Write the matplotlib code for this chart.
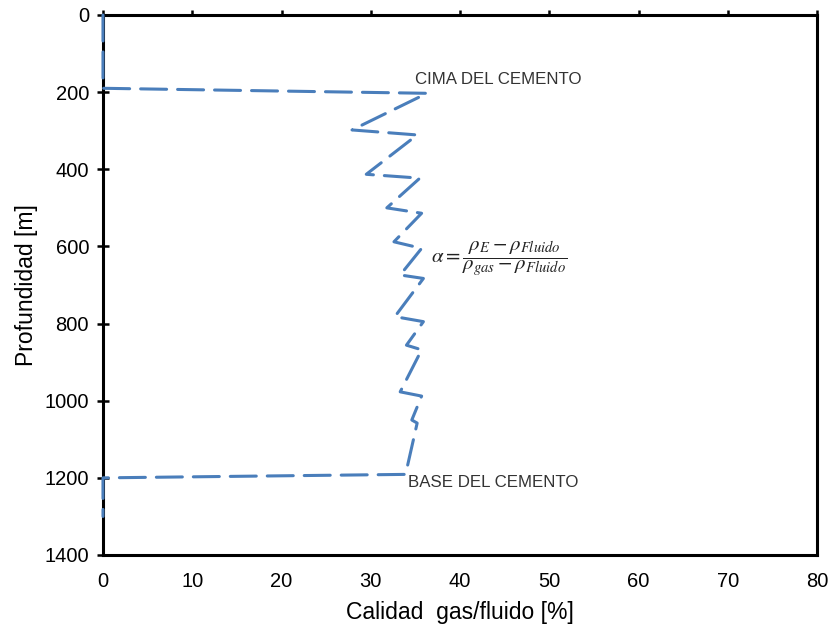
import matplotlib
matplotlib.use("Agg")
import matplotlib.pyplot as plt

plt.rcParams['font.family'] = ['Liberation Sans', 'DejaVu Sans']
plt.rcParams['mathtext.fontset'] = 'stix'

# Gas/fluid quality profile along the well (depth in m, quality in %)
depth_m = [0, 190, 203, 298, 311, 413, 423, 500, 514, 588, 605, 674, 683,
           782, 795, 856, 868, 977, 988, 1050, 1058, 1191, 1200, 1300]
quality_pct = [0, 0, 36.3, 27.9, 35.2, 29.5, 35.5, 31.8, 35.7, 32.6, 35.7,
               33.3, 35.9, 32.7, 35.9, 34.0, 35.7, 33.3, 35.7, 34.6, 35.2,
               33.9, 0, 0]

x_ticks = [0, 10, 20, 30, 40, 50, 60, 70, 80]
y_ticks = [0, 200, 400, 600, 800, 1000, 1200, 1400]

fig = plt.figure(figsize=(8.31, 6.28), dpi=100)
ax = fig.add_axes([103 / 831, 1 - 555 / 628, 714 / 831, 540 / 628])

ax.plot(quality_pct, depth_m, color='#4A7EBB', lw=2.2, dashes=(8.5, 3.6),
        solid_capstyle='round', dash_capstyle='round', zorder=5, clip_on=False)

ax.set_xlim(0, 80)
ax.set_ylim(1400, 0)
ax.set_xticks(x_ticks)
ax.set_yticks(y_ticks)

for sp in ax.spines.values():
    sp.set_linewidth(2.2)
    sp.set_color('black')

ax.tick_params(axis='y', direction='inout', length=8, width=1.8,
               labelsize=14.5, pad=6, right=False)
ax.tick_params(axis='x', direction='out', length=3.5, width=1.8,
               labelsize=14.5, top=True, bottom=False,
               labeltop=False, labelbottom=True, pad=9)

ax.set_xlabel('Calidad  gas/fluido [%]', fontsize=16.5, labelpad=7)
ax.set_ylabel('Profundidad [m]', fontsize=16.5, labelpad=5)

ax.text(35.0, 168, 'CIMA DEL CEMENTO', fontsize=12.2, color='#333333',
        ha='left', va='center')
ax.text(34.2, 1213, 'BASE DEL CEMENTO', fontsize=12.2, color='#333333',
        ha='left', va='center')
ax.text(44.4, 632, r'$\alpha = \dfrac{\rho_E - \rho_{Fluido}}{\rho_{gas} - \rho_{Fluido}}$',
        fontsize=15, color='#222222', ha='center', va='center')

fig.savefig('out.png', dpi=100)
